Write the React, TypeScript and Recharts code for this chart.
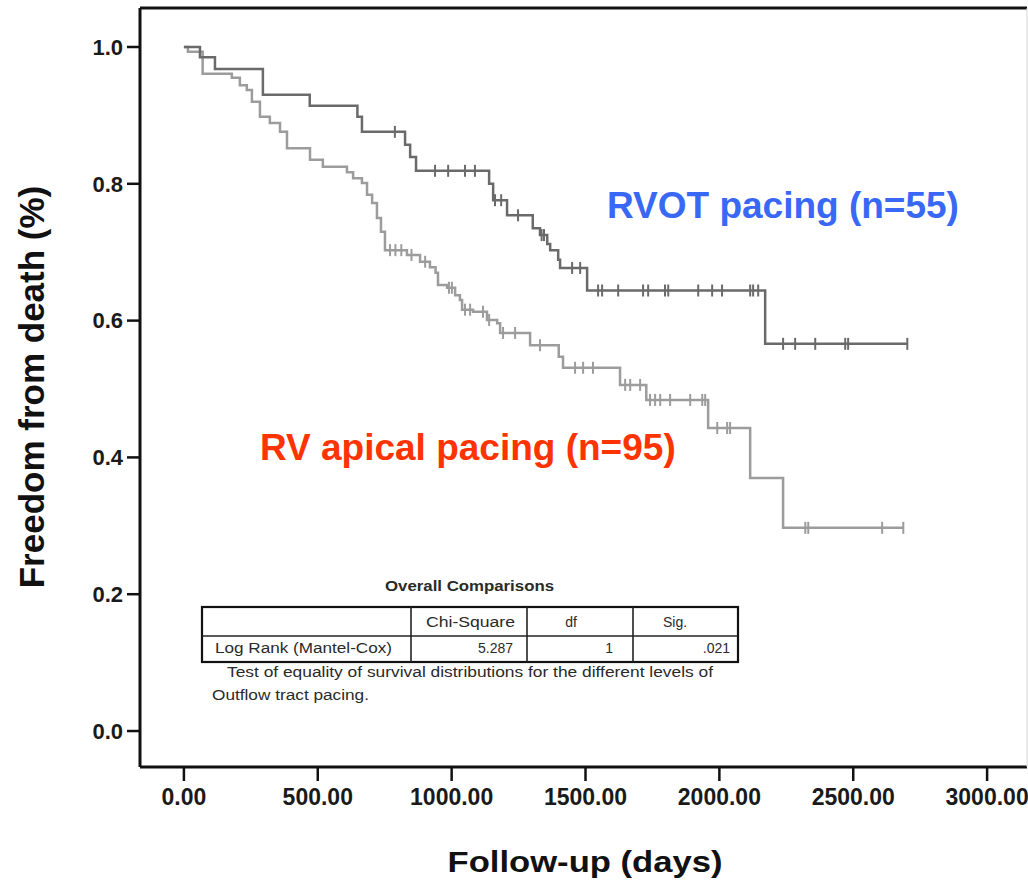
import { Line, LineChart, XAxis, YAxis } from "recharts";

// Kaplan-Meier steps (day, survival after the drop)
const rvotEventDays = [0, 60, 116, 295, 470, 648, 665, 826, 845, 867, 1140, 1155, 1207, 1303, 1330, 1357, 1368, 1398, 1405, 1506, 2171];
const rvotEventSurv = [1.0, 0.985, 0.968, 0.93, 0.914, 0.898, 0.876, 0.857, 0.839, 0.819, 0.8, 0.776, 0.754, 0.735, 0.725, 0.712, 0.703, 0.689, 0.677, 0.644, 0.566];
const rvotCensorDays = [788, 938, 987, 1050, 1087, 1162, 1185, 1248, 1336, 1345, 1450, 1480, 1547, 1562, 1622, 1715, 1734, 1797, 1809, 1921, 1973, 2010, 2115, 2126, 2145, 2238, 2283, 2358, 2470, 2481, 2702];

const apicalEventDays = [0, 15, 70, 179, 209, 235, 254, 284, 321, 359, 385, 471, 519, 609, 632, 665, 684, 703, 721, 736, 751, 833, 882, 919, 940, 949, 983, 1013, 1031, 1039, 1080, 1132, 1170, 1181, 1293, 1400, 1416, 1629, 1727, 1958, 2115, 2238];
const apicalEventSurv = [1.0, 0.993, 0.961, 0.955, 0.944, 0.937, 0.92, 0.898, 0.889, 0.876, 0.852, 0.835, 0.825, 0.817, 0.808, 0.801, 0.784, 0.772, 0.75, 0.73, 0.703, 0.696, 0.686, 0.678, 0.67, 0.652, 0.648, 0.637, 0.63, 0.616, 0.613, 0.601, 0.596, 0.582, 0.564, 0.547, 0.531, 0.506, 0.484, 0.443, 0.37, 0.297];
const apicalCensorDays = [770, 790, 812, 850, 901, 990, 1001, 1050, 1069, 1117, 1140, 1192, 1237, 1330, 1461, 1491, 1528, 1648, 1667, 1704, 1741, 1760, 1779, 1816, 1891, 1936, 1947, 1992, 2029, 2040, 2321, 2332, 2608, 2687];

const xTicks = [0, 500, 1000, 1500, 2000, 2500, 3000];
const yTicks = [0, 0.2, 0.4, 0.6, 0.8, 1.0];

const tableHeader = ["", "Chi-Square", "df", "Sig."];
const tableRow = ["Log Rank (Mantel-Cox)", "5.287", "1", ".021"];

const RVOT_COLOR = "#6a6a6a";
const APICAL_COLOR = "#9c9c9c";

type Pt = { day: number; surv: number; censored: boolean };

function buildSeries(days: number[], surv: number[], censors: number[]): Pt[] {
  const pts: Pt[] = days.map((d, i) => ({ day: d, surv: surv[i], censored: false }));
  censors.forEach((c) => {
    let s = surv[0];
    days.forEach((d, i) => {
      if (d <= c) s = surv[i];
    });
    pts.push({ day: c, surv: s, censored: true });
  });
  return pts.sort((a, b) => a.day - b.day);
}

const rvotData = buildSeries(rvotEventDays, rvotEventSurv, rvotCensorDays);
const apicalData = buildSeries(apicalEventDays, apicalEventSurv, apicalCensorDays);

const censorDot = (color: string) => (props: any) => {
  const { cx, cy, payload, index } = props;
  if (!payload || !payload.censored) return <g key={`n${index}`} />;
  return <line key={`c${index}`} x1={cx} x2={cx} y1={cy - 6} y2={cy + 6} stroke={color} strokeWidth={2} />;
};

const FONT = "'Liberation Sans', Arial, sans-serif";

const TableOverlay = () => {
  const colX = [202, 411, 527, 633, 738];
  const small = { fontFamily: FONT, fontSize: 14, fill: "#2a2a2a" };
  const stretch = { lengthAdjust: "spacingAndGlyphs" as const };
  return (
    <svg width={1028} height={885} style={{ position: "absolute", left: 0, top: 0, pointerEvents: "none" }}>
      <text x={607} y={218} fontFamily={FONT} fontWeight="bold" fontSize={37} fill="#3868f5">
        RVOT pacing (n=55)
      </text>
      <text x={260} y={460} fontFamily={FONT} fontWeight="bold" fontSize={37} fill="#ff3300">
        RV apical pacing (n=95)
      </text>

      <text x={385} y={591} {...small} {...stretch} fontWeight="bold" textLength={169}>
        Overall Comparisons
      </text>
      <rect x={202} y={607} width={536} height={55} fill="white" stroke="#111" strokeWidth={2.2} />
      <line x1={202} x2={738} y1={636} y2={636} stroke="#222" strokeWidth={1.6} />
      {colX.slice(1, 4).map((x) => (
        <line key={x} x1={x} x2={x} y1={607} y2={662} stroke="#222" strokeWidth={1.6} />
      ))}
      <text x={426} y={627} {...small} {...stretch} textLength={89}>{tableHeader[1]}</text>
      <text x={571} y={627} {...small} textAnchor="middle">{tableHeader[2]}</text>
      <text x={675} y={627} {...small} textAnchor="middle">{tableHeader[3]}</text>
      <text x={215} y={653} {...small} {...stretch} textLength={177}>{tableRow[0]}</text>
      <text x={513} y={653} {...small} textAnchor="end">{tableRow[1]}</text>
      <text x={613} y={653} {...small} textAnchor="end">{tableRow[2]}</text>
      <text x={730} y={653} {...small} textAnchor="end">{tableRow[3]}</text>
      <text x={227} y={677} {...small} {...stretch} textLength={486}>
        Test of equality of survival distributions for the different levels of
      </text>
      <text x={212} y={700} {...small} {...stretch} textLength={157}>
        Outflow tract pacing.
      </text>
    </svg>
  );
};

const App = () => {
  return (
    <div style={{ position: "absolute", left: 0, top: 0, width: 1028, height: 885, background: "#fff" }}>
      <LineChart width={1028} height={885} margin={{ top: 7, right: 0, bottom: 0, left: 0 }}>
        <XAxis
          type="number"
          dataKey="day"
          domain={[-164, 3149]}
          ticks={xTicks}
          allowDataOverflow
          height={118}
          tickFormatter={(v: number) => v.toFixed(2)}
          axisLine={{ stroke: "#111", strokeWidth: 3 }}
          tickLine={{ stroke: "#111", strokeWidth: 2.5 }}
          tickSize={14}
          tickMargin={8}
          tick={{ fill: "#1a1a1a", fontSize: 23, fontWeight: "bold", fontFamily: FONT }}
          label={() => (
            <text
              x={585}
              y={872}
              textAnchor="middle"
              fontFamily={FONT}
              fontWeight="bold"
              fontSize={29}
              fill="#111"
              textLength={275}
              lengthAdjust="spacingAndGlyphs"
            >
              Follow-up (days)
            </text>
          )}
        />
        <XAxis
          xAxisId="top"
          orientation="top"
          type="number"
          dataKey="day"
          domain={[-164, 3149]}
          allowDataOverflow
          height={1}
          tick={false}
          tickLine={false}
          axisLine={{ stroke: "#111", strokeWidth: 3 }}
        />
        <YAxis
          type="number"
          domain={[-0.0526, 1.057]}
          ticks={yTicks}
          allowDataOverflow
          width={140}
          tickFormatter={(v: number) => v.toFixed(1)}
          axisLine={{ stroke: "#111", strokeWidth: 3 }}
          tickLine={{ stroke: "#111", strokeWidth: 2.5 }}
          tickSize={13}
          tickMargin={4}
          tick={{ fill: "#1a1a1a", fontSize: 22, fontWeight: "bold", fontFamily: FONT }}
          label={() => (
            <text
              x={44}
              y={387}
              transform="rotate(-90, 44, 387)"
              textAnchor="middle"
              fontFamily={FONT}
              fontWeight="bold"
              fontSize={35}
              fill="#111"
            >
              Freedom from death (%)
            </text>
          )}
        />
        <YAxis
          yAxisId="right"
          orientation="right"
          type="number"
          domain={[-0.0526, 1.057]}
          width={1}
          tick={false}
          tickLine={false}
          axisLine={{ stroke: "#d4d4d4", strokeWidth: 1 }}
        />
        <Line
          data={apicalData}
          type="stepAfter"
          dataKey="surv"
          stroke={APICAL_COLOR}
          strokeWidth={2.5}
          dot={censorDot(APICAL_COLOR)}
          activeDot={false}
          isAnimationActive={false}
        />
        <Line
          data={rvotData}
          type="stepAfter"
          dataKey="surv"
          stroke={RVOT_COLOR}
          strokeWidth={2.5}
          dot={censorDot(RVOT_COLOR)}
          activeDot={false}
          isAnimationActive={false}
        />
      </LineChart>
      <TableOverlay />
    </div>
  );
};

export default App;
